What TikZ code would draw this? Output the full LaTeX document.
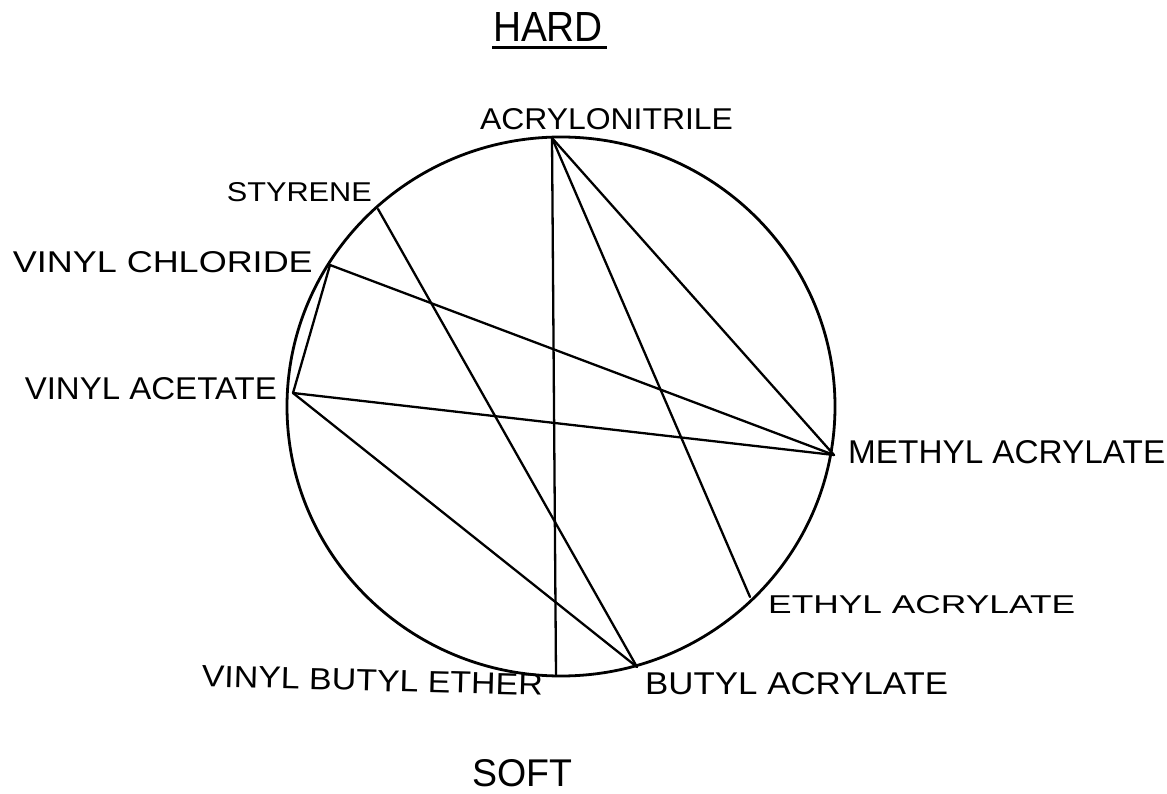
\documentclass[tikz,border=0pt]{standalone}
\usepackage{graphicx}
\usepackage{fontspec}
\setmainfont{Liberation Sans}
\newcommand\handlbl[3]{\resizebox{#1pt}{#2pt}{#3}}
\tikzset{
  rim/.style={line width=2.8pt},
  chord/.style={line width=2.3pt, line cap=round},
  lbl/.style={inner sep=0pt, font=\fontsize{31}{36}\selectfont}
}
\begin{document}
\begin{tikzpicture}[x=1pt,y=-1pt]
\useasboundingbox (0,0) rectangle (1167,794);
% circle
\draw[rim] (561,406.5) ellipse [x radius=274, y radius=269.5];
% points on the circle
\coordinate (an) at (552,138);
\coordinate (st) at (378,209);
\coordinate (vc) at (330,265);
\coordinate (va) at (293,393);
\coordinate (ma) at (834,455);
\coordinate (ea) at (750,597);
\coordinate (ba) at (637,667);
\coordinate (vbe) at (556,676);
% chords
\draw[chord] (an) -- (vbe);
\draw[chord] (an) -- (ea);
\draw[chord] (an) -- (ma);
\draw[chord] (st) -- (ba);
\draw[chord] (vc) -- (ma);
\draw[chord] (vc) -- (va);
\draw[chord] (va) -- (ma);
\draw[chord] (va) -- (ba);
% titles
\node[lbl, anchor=center] (hard) at (548,27.5) {\handlbl{110}{29}{HARD}};
\draw[line width=3pt] (492,48) -- (607,48);
\node[lbl, anchor=center] (soft) at (522,773.5) {\handlbl{100}{27}{SOFT}};
% labels
\node[lbl, anchor=center] (lan) at (606.5,119) {\handlbl{253}{21}{ACRYLONITRILE}};
\node[lbl, anchor=east] (lst) at (372,192.5) {\handlbl{145}{19}{STYRENE}};
\node[lbl, anchor=east] (lvc) at (313,262.5) {\handlbl{300}{21}{VINYL CHLORIDE}};
\node[lbl, anchor=east] (lva) at (277,389) {\handlbl{252}{22}{VINYL ACETATE}};
\node[lbl, anchor=west] (lma) at (848,452) {\handlbl{317}{23}{METHYL ACRYLATE}};
\node[lbl, anchor=west] (lea) at (768,605) {\handlbl{307}{18}{ETHYL ACRYLATE}};
\node[lbl, anchor=west] (lba) at (645,684) {\handlbl{303}{22}{BUTYL ACRYLATE}};
\node[lbl, anchor=east, rotate=-1.5] (lvbe) at (543,685) {\handlbl{341}{21}{VINYL BUTYL ETHER}};
\end{tikzpicture}
\end{document}
